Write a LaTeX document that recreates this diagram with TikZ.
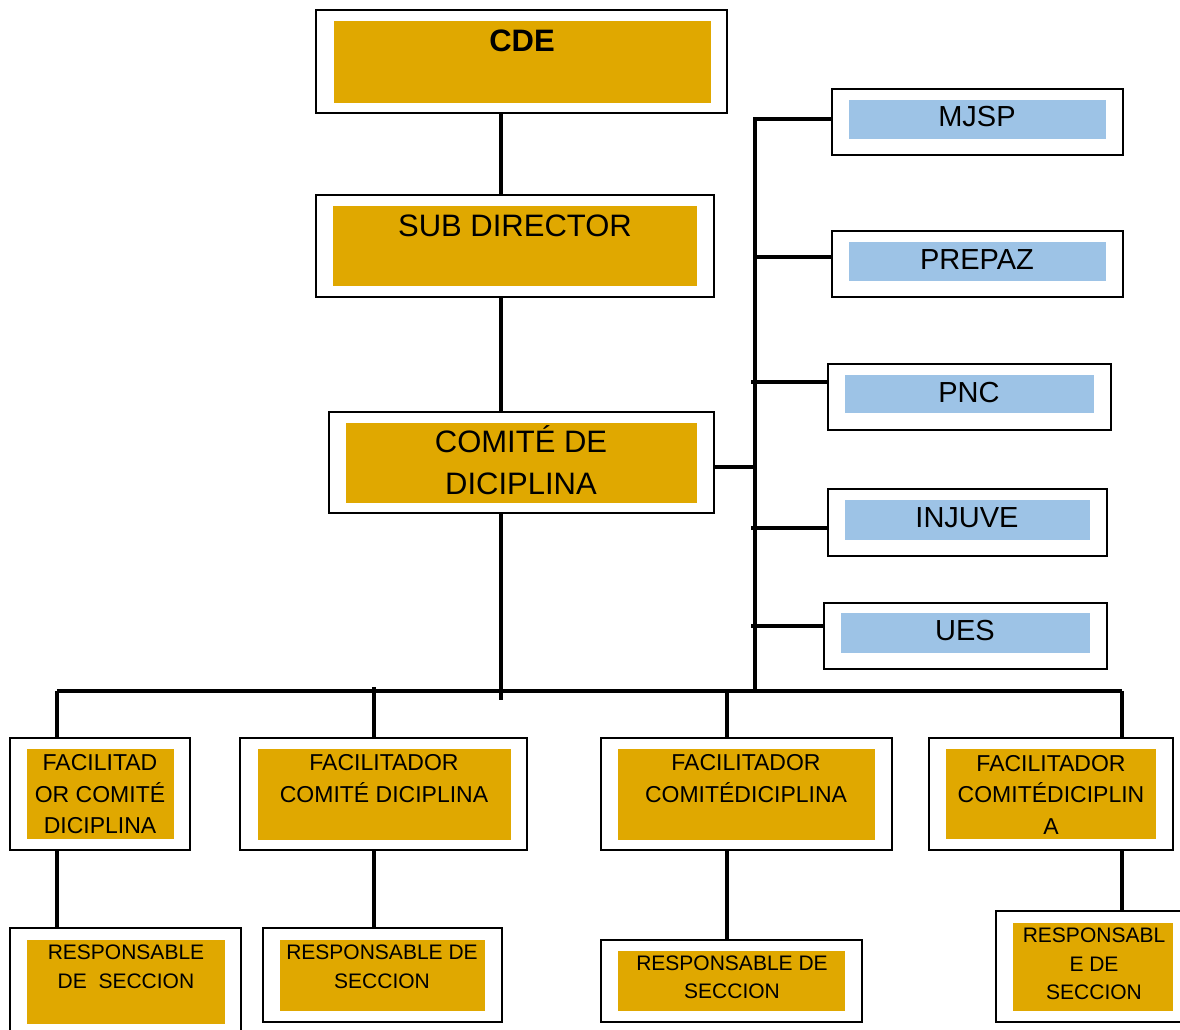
\documentclass[tikz,border=0pt]{standalone}
\usepackage{fontspec}
\setmainfont{Liberation Sans}
\definecolor{gold}{RGB}{224,168,0}
\definecolor{sky}{RGB}{157,195,230}
\begin{document}
\begin{tikzpicture}[x=1pt,y=-1pt,
  outer/.style={draw=black, line width=2.6pt, fill=white, inner sep=0pt},
  goldfill/.style={fill=gold, inner sep=0pt},
  bluefill/.style={fill=sky, inner sep=0pt},
  txt/.style={align=center, inner sep=0pt, text=black},
  big/.style={font=\fontsize{31}{42}\selectfont},
  mid/.style={font=\fontsize{29}{35}\selectfont},
  fac/.style={font=\fontsize{23}{31.5}\selectfont},
  res/.style={font=\fontsize{21}{28.5}\selectfont},
  conn/.style={draw=black, line width=3.8pt}]
\useasboundingbox (0,0) rectangle (1180,1029);
\fill[white] (0,0) rectangle (1180,1029);

% ---- main column
\node[outer, minimum width=411pt, minimum height=103pt] (cde) at (521.5,61.5) {};
\node[goldfill, minimum width=377pt, minimum height=82pt] (cdei) at (522.5,62) {};
\node[txt, font=\fontsize{31}{42}\selectfont\bfseries] (cdet) at (522,41) {CDE};

\node[outer, minimum width=398pt, minimum height=102pt] (sub) at (515,246) {};
\node[goldfill, minimum width=364pt, minimum height=80pt] (subi) at (515,246) {};
\node[txt, big] (subt) at (515,226) {SUB DIRECTOR};

\node[outer, minimum width=385pt, minimum height=101pt] (com) at (521.5,462.5) {};
\node[goldfill, minimum width=351pt, minimum height=80pt] (comi) at (521.5,463) {};
\node[txt, big] (comt) at (521,460) {COMITÉ DE\\DICIPLINA};

% ---- right column
\node[outer, minimum width=291pt, minimum height=66pt] (mjsp) at (977.5,122) {};
\node[bluefill, minimum width=257pt, minimum height=39pt] (mjspi) at (977.5,119.5) {};
\node[txt, mid] (mjspt) at (977,117) {MJSP};

\node[outer, minimum width=291pt, minimum height=66pt] (prepaz) at (977.5,264) {};
\node[bluefill, minimum width=257pt, minimum height=39pt] (prepazi) at (977.5,261.5) {};
\node[txt, mid] (prepazt) at (977,260) {PREPAZ};

\node[outer, minimum width=283pt, minimum height=66pt] (pnc) at (969.5,397) {};
\node[bluefill, minimum width=249pt, minimum height=38pt] (pnci) at (969.5,394) {};
\node[txt, mid] (pnct) at (969,393) {PNC};

\node[outer, minimum width=279pt, minimum height=67pt] (injuve) at (967.5,522.5) {};
\node[bluefill, minimum width=245pt, minimum height=40pt] (injuvei) at (967.5,520) {};
\node[txt, mid] (injuvet) at (967,518) {INJUVE};

\node[outer, minimum width=283pt, minimum height=66pt] (ues) at (965.5,636) {};
\node[bluefill, minimum width=249pt, minimum height=40pt] (uesi) at (965.5,633) {};
\node[txt, mid] (uest) at (965,631) {UES};

% ---- facilitators
\node[outer, minimum width=180pt, minimum height=112pt] (f1) at (100,794) {};
\node[goldfill, minimum width=147pt, minimum height=90pt] (f1i) at (100.5,794) {};
\node[txt, fac] (f1t) at (100,794.5) {FACILITAD\\OR COMITÉ\\DICIPLINA};

\node[outer, minimum width=287pt, minimum height=112pt] (f2) at (383.5,794) {};
\node[goldfill, minimum width=253pt, minimum height=91pt] (f2i) at (384.5,794.5) {};
\node[txt, fac] (f2t) at (384,778.5) {FACILITADOR\\COMITÉ DICIPLINA};

\node[outer, minimum width=291pt, minimum height=112pt] (f3) at (746.5,794) {};
\node[goldfill, minimum width=257pt, minimum height=91pt] (f3i) at (746.5,794.5) {};
\node[txt, fac] (f3t) at (746,778.5) {FACILITADOR\\COMITÉDICIPLINA};

\node[outer, minimum width=244pt, minimum height=112pt] (f4) at (1051,794) {};
\node[goldfill, minimum width=210pt, minimum height=90pt] (f4i) at (1051,794) {};
\node[txt, fac] (f4t) at (1051,794.5) {FACILITADOR\\COMITÉDICIPLIN\\A};

% ---- responsables
\node[outer, minimum width=231pt, minimum height=112pt] (r1) at (125.5,984) {};
\node[goldfill, minimum width=198pt, minimum height=84pt] (r1i) at (126,982) {};
\node[txt, res] (r1t) at (126,967) {RESPONSABLE\\DE\ \ SECCION};

\node[outer, minimum width=239pt, minimum height=94pt] (r2) at (382.5,975) {};
\node[goldfill, minimum width=205pt, minimum height=71pt] (r2i) at (382.5,975.5) {};
\node[txt, res] (r2t) at (382,967) {RESPONSABLE DE\\SECCION};

\node[outer, minimum width=261pt, minimum height=82pt] (r3) at (731.5,981) {};
\node[goldfill, minimum width=227pt, minimum height=60pt] (r3i) at (731.5,981) {};
\node[txt, res] (r3t) at (732,977.5) {RESPONSABLE DE\\SECCION};

\node[outer, minimum width=194pt, minimum height=111pt] (r4) at (1093,966.5) {};
\node[goldfill, minimum width=160pt, minimum height=88pt] (r4i) at (1093,967) {};
\node[txt, res] (r4t) at (1094,964) {RESPONSABL\\E DE\\SECCION};

% ---- bus coordinates
\coordinate (busL) at (57,691);
\coordinate (busR) at (1122,691);
\coordinate (vtop) at (755,119);
\coordinate (vbot) at (755,691);
\coordinate (comend) at (501,700);

% ---- connectors
\draw[conn] (cde.south -| 501,0) -- (sub.north -| 501,0);
\draw[conn] (sub.south -| 501,0) -- (com.north -| 501,0);
\draw[conn] (com.south -| 501,0) -- (comend);
\draw[conn] (com.east |- 0,467) -- (vbot |- 0,467);
\draw[conn, line join=miter] (mjsp.west |- vtop) -- (vtop) -- (vbot);
\draw[conn] (busL) -- (busR);

\draw[conn] (755,257) -- (prepaz.west |- 0,257);
\draw[conn] (751,382) -- (pnc.west |- 0,382);
\draw[conn] (751,528) -- (injuve.west |- 0,528);
\draw[conn] (751,626) -- (ues.west |- 0,626);

\draw[conn] (busL) -- (f1.north -| busL);
\draw[conn] (374,687) -- (f2.north -| 374,0);
\draw[conn] (727,691) -- (f3.north -| 727,0);
\draw[conn] (busR) -- (f4.north -| busR);

\draw[conn] (f1.south -| busL) -- (r1.north -| busL);
\draw[conn] (f2.south -| 374,0) -- (r2.north -| 374,0);
\draw[conn] (f3.south -| 727,0) -- (r3.north -| 727,0);
\draw[conn] (f4.south -| busR) -- (r4.north -| busR);
\end{tikzpicture}
\end{document}
